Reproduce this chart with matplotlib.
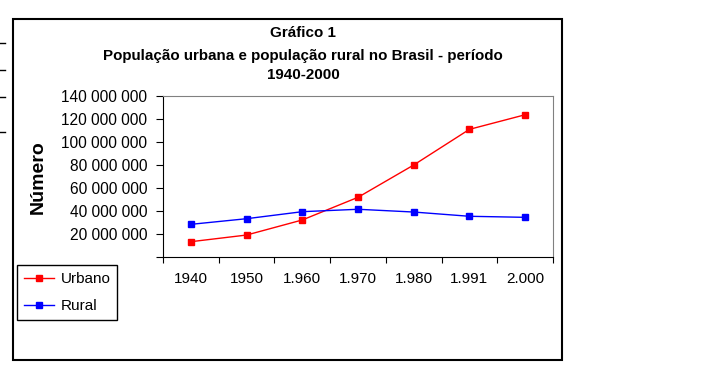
import matplotlib
matplotlib.use("Agg")
import matplotlib.pyplot as plt
from matplotlib.patches import Rectangle
from matplotlib.lines import Line2D
from matplotlib.ticker import FuncFormatter

plt.rcParams['font.family'] = ['Liberation Sans', 'DejaVu Sans']

anos = ["1940", "1950", "1.960", "1.970", "1.980", "1.991", "2.000"]
urbano = [13_300_000, 19_100_000, 32_200_000, 51_900_000, 80_000_000, 111_000_000, 123_700_000]
rural = [28_400_000, 33_300_000, 39_400_000, 41_500_000, 39_100_000, 35_400_000, 34_500_000]

W, H = 707, 381
fig = plt.figure(figsize=(W / 100, H / 100), dpi=100)

def fx(px):
    return px / W

def fy(py):
    return 1 - py / H

# outer chart frame
fig.patches.append(Rectangle((fx(13), fy(360)), fx(562) - fx(13), fy(19) - fy(360),
                             transform=fig.transFigure, fill=False, edgecolor='black', lw=1.5))
# little stubs on the left edge
for yy in [43, 70, 97, 132]:
    fig.lines.append(Line2D([0, fx(5)], [fy(yy), fy(yy)], transform=fig.transFigure,
                            color='black', lw=1))

ax = fig.add_axes([fx(163), fy(257), fx(553) - fx(163), fy(96) - fy(257)])
x = list(range(len(anos)))
ax.plot(x, urbano, color='#ff0000', lw=1, marker='s', ms=4.5, label='Urbano')
ax.plot(x, rural, color='#0000ff', lw=1, marker='s', ms=4.5, label='Rural')

ax.set_ylim(0, 140_000_000)
ax.set_yticks(range(0, 140_000_001, 20_000_000))
ax.yaxis.set_major_formatter(FuncFormatter(
    lambda v, p: "" if v == 0 else f"{int(v):,}".replace(",", " ")))
ax.tick_params(axis='y', direction='out', length=5, labelsize=11.2, pad=6.5)

ax.set_xlim(-0.5, len(anos) - 0.5)
ax.set_xticks([i - 0.5 for i in range(len(anos) + 1)])
ax.set_xticklabels([])
ax.set_xticks(x, minor=True)
ax.set_xticklabels(anos, minor=True)
ax.tick_params(axis='x', which='major', direction='out', length=4)
ax.tick_params(axis='x', which='minor', length=0, labelsize=11, pad=11)

for s in ['top', 'right']:
    ax.spines[s].set_color('#808080')
for s in ['left', 'bottom']:
    ax.spines[s].set_color('black')

fig.text(fx(303), fy(33), "Gráfico 1", ha='center', va='center', fontsize=10.9, fontweight='bold')
fig.text(fx(303), fy(56), "População urbana e população rural no Brasil - período",
         ha='center', va='center', fontsize=10.9, fontweight='bold')
fig.text(fx(303), fy(75), "1940-2000", ha='center', va='center', fontsize=10.9, fontweight='bold')

fig.text(fx(38), fy(177), "Número", rotation=90, ha='center', va='center',
         fontsize=14, fontweight='bold')

leg = fig.legend(loc='upper left', bbox_to_anchor=(fx(17), fy(265)), fontsize=11,
                 fancybox=False, edgecolor='black', framealpha=1, borderpad=0.45,
                 handlelength=2.0, handletextpad=0.4, labelspacing=0.85, borderaxespad=0)
leg.get_frame().set_linewidth(1)

fig.savefig("out.png", dpi=100)
